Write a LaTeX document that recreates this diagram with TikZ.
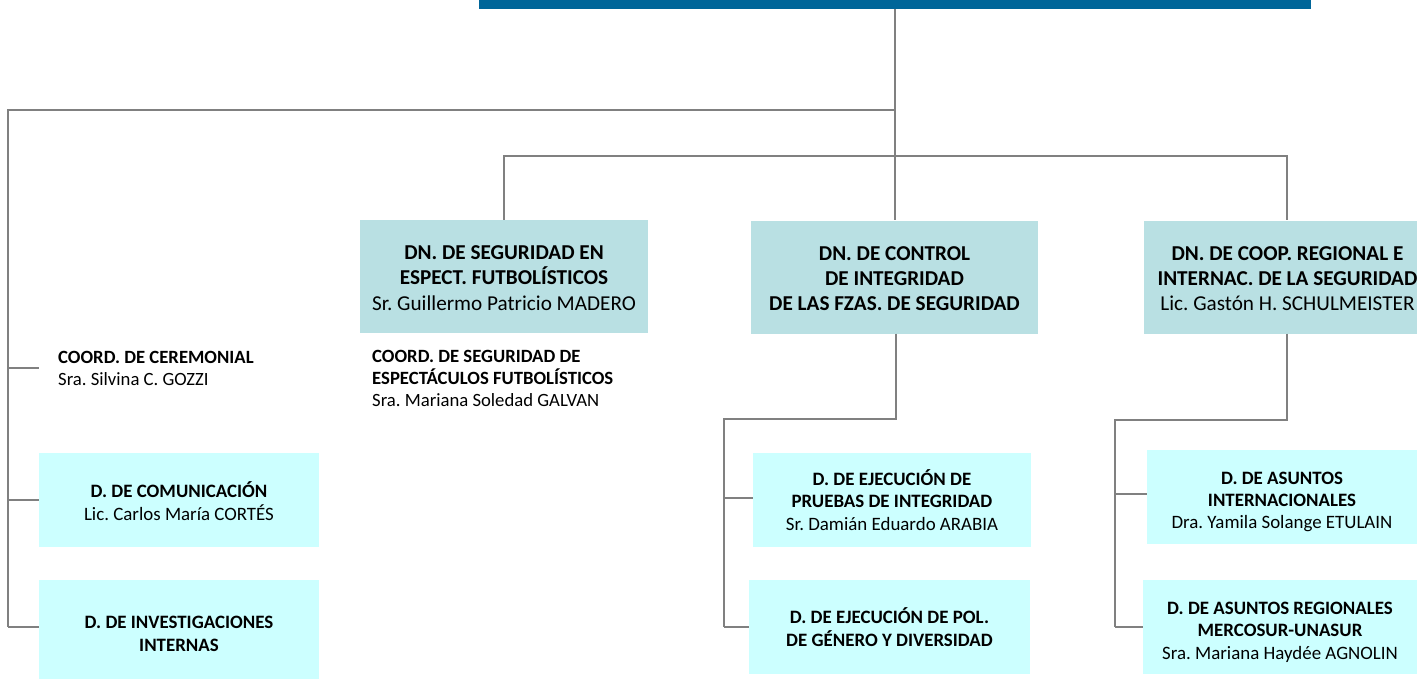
\documentclass[tikz,border=0pt]{standalone}
\usepackage{fontspec}
\setmainfont{Carlito}
\frenchspacing
\definecolor{barblue}{RGB}{0,102,153}
\definecolor{dnfill}{RGB}{185,224,227}
\definecolor{dfill}{RGB}{204,255,255}
\definecolor{linegray}{RGB}{128,128,128}
\begin{document}
\begin{tikzpicture}[x=1pt,y=-1pt,
  conn/.style={draw=linegray,line width=1.6pt},
  dnbox/.style={fill=dnfill,inner sep=0pt,minimum width=288pt,minimum height=113pt},
  dbox/.style={fill=dfill,inner sep=0pt},
  dntext/.style={inner sep=0pt,align=center,font=\fontsize{21.2}{25.2}\selectfont},
  dtext/.style={inner sep=0pt,align=center,font=\fontsize{18.9}{22.4}\selectfont},
  coordtext/.style={inner sep=0pt,align=left,anchor=north west,font=\fontsize{18.7}{22.2}\selectfont}]
\useasboundingbox (0,0) rectangle (1417,680);
\clip (0,0) rectangle (1417,680);
% top bar
\node[fill=barblue,inner sep=0pt,minimum width=832pt,minimum height=9pt,anchor=north west] (top) at (479,0) {};
% DN boxes
\node[dnbox] (b1) at (504,276.5) {};
\node[dntext] (b1t) at ([yshift=-1.5pt]b1.center)
  {\textbf{DN. DE SEGURIDAD EN}\\\textbf{ESPECT. FUTBOLÍSTICOS}\\Sr. Guillermo Patricio MADERO};
\node[dnbox,minimum width=287pt] (b2) at (894.5,277) {};
\node[dntext] (b2t) at ([yshift=-1.5pt]b2.center)
  {\textbf{DN. DE CONTROL}\\\textbf{DE INTEGRIDAD}\\\textbf{DE LAS FZAS. DE SEGURIDAD}};
\node[dnbox] (b3) at (1287.5,277) {};
\node[dntext] (b3t) at ([yshift=-1.5pt]b3.center)
  {\textbf{DN. DE COOP. REGIONAL E}\\\textbf{INTERNAC. DE LA SEGURIDAD}\\Lic. Gastón H. SCHULMEISTER};
% lower boxes
\node[dbox,minimum width=278pt,minimum height=94pt] (c1) at (892,500) {};
\node[dtext] (c1t) at (c1.center)
  {\textbf{D. DE EJECUCIÓN DE}\\\textbf{PRUEBAS DE INTEGRIDAD}\\Sr. Damián Eduardo ARABIA};
\node[dbox,minimum width=281pt,minimum height=94pt] (c2) at (889.5,627) {};
\node[dtext] (c2t) at (c2.center)
  {\textbf{D. DE EJECUCIÓN DE POL.}\\\textbf{DE GÉNERO Y DIVERSIDAD}};
\node[dbox,minimum width=270pt,minimum height=94pt] (d1) at (1282,497) {};
\node[dtext] (d1t) at ([yshift=-5pt]d1.center)
  {\textbf{D. DE ASUNTOS}\\\textbf{INTERNACIONALES}\\Dra. Yamila Solange ETULAIN};
\node[dbox,minimum width=274pt,minimum height=94pt] (d2) at (1280,627) {};
\node[dtext] (d2t) at ([yshift=-5pt]d2.center)
  {\textbf{D. DE ASUNTOS REGIONALES}\\\textbf{MERCOSUR-UNASUR}\\Sra. Mariana Haydée AGNOLIN};
\node[dbox,minimum width=280pt,minimum height=94pt] (e1) at (179,500) {};
\node[dtext] (e1t) at ([yshift=-1pt]e1.center)
  {\textbf{D. DE COMUNICACIÓN}\\Lic. Carlos María CORTÉS};
\node[dbox,minimum width=280pt,minimum height=99pt] (e2) at (179,629.5) {};
\node[dtext] (e2t) at ([yshift=-4.5pt]e2.center)
  {\textbf{D. DE INVESTIGACIONES}\\\textbf{INTERNAS}};
% plain texts
\node[coordtext] (ceremonial) at (58,351) {\textbf{COORD. DE CEREMONIAL}\\Sra. Silvina C. GOZZI};
\node[coordtext] (coordseg) at (372,350) {\textbf{COORD. DE SEGURIDAD DE}\\\textbf{ESPECTÁCULOS FUTBOLÍSTICOS}\\Sra. Mariana Soledad GALVAN};
% junction coordinates
\coordinate (jtop) at (895,110);
\coordinate (jleft) at (8,110);
\coordinate (jmid) at (895,156);
\coordinate (lcer) at (8,368);
\coordinate (lcom) at (8,500);
\coordinate (linv) at (8,627);
\coordinate (ccer) at (39,368);
\coordinate (cbend) at (896,419);
\coordinate (cl) at (724,419);
\coordinate (c1j) at (724,498);
\coordinate (c2j) at (724,627);
\coordinate (dbend) at (1287,420);
\coordinate (dl) at (1115,420);
\coordinate (d1j) at (1115,494);
\coordinate (d2j) at (1115,627);
% connectors
\draw[conn] (top.south -| jtop) -- (jtop |- b2.north);
\draw[conn] (jtop) -- (jleft) -- (linv);
\draw[conn] (b1.north) -- (b1.north |- jmid) -- (dbend |- jmid) -- (dbend |- b3.north);
\draw[conn] (lcer) -- (ccer);
\draw[conn] (lcom) -- (lcom -| e1.west);
\draw[conn] (linv) -- (linv -| e2.west);
\draw[conn] (cbend |- b2.south) -- (cbend) -- (cl) -- (c2j);
\draw[conn] (c1j) -- (c1j -| c1.west);
\draw[conn] (c2j) -- (c2j -| c2.west);
\draw[conn] (dbend |- b3.south) -- (dbend) -- (dl) -- (d2j);
\draw[conn] (d1j) -- (d1j -| d1.west);
\draw[conn] (d2j) -- (d2j -| d2.west);
\end{tikzpicture}
\end{document}
